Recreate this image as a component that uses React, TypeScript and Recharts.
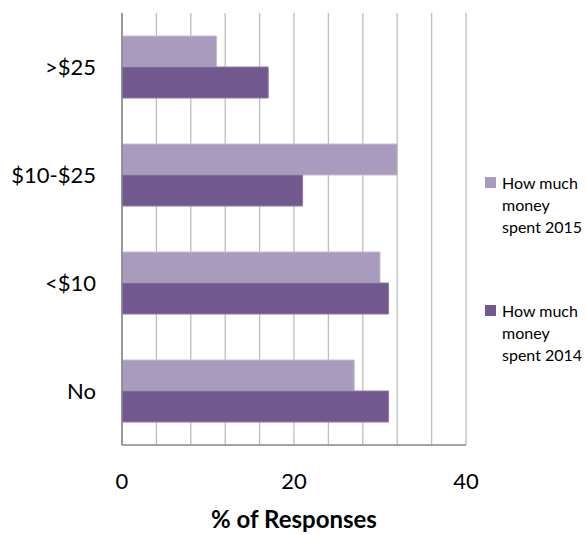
import { BarChart, Bar, XAxis, YAxis, CartesianGrid, Legend } from 'recharts';

const categories = ['>$25', '$10-$25', '<$10', 'No'];
const spent2015 = [11, 32, 30, 27];
const spent2014 = [17, 21, 31, 31];
const xTicks = [0, 4, 8, 12, 16, 20, 24, 28, 32, 36, 40];

const seriesNames = ['How much money spent 2015', 'How much money spent 2014'];
const LIGHT = '#a99bbd';
const DARK = '#71588f';
const FONT = 'Lato, "Open Sans", sans-serif';

const data = categories.map((name, i) => ({
  name,
  y2015: spent2015[i],
  y2014: spent2014[i],
}));

function LegendBox() {
  const items = [
    { label: seriesNames[0], color: LIGHT },
    { label: seriesNames[1], color: DARK },
  ];
  return (
    <div style={{ fontFamily: FONT, fontSize: 16, color: '#000', textAlign: 'left' }}>
      {items.map((it, i) => (
        <div
          key={it.label}
          style={{ display: 'flex', alignItems: 'flex-start', marginBottom: i === 0 ? 62 : 0 }}
        >
          <div
            style={{
              width: 11,
              height: 11,
              background: it.color,
              marginTop: 5,
              marginRight: 6,
              flexShrink: 0,
            }}
          />
          <div style={{ width: 86, lineHeight: '22px' }}>{it.label}</div>
        </div>
      ))}
    </div>
  );
}

export default function App() {
  return (
    <div style={{ position: 'absolute', left: 0, top: 0, background: '#fff' }}>
      <BarChart
        width={586}
        height={535}
        data={data}
        layout="vertical"
        margin={{ top: 13, right: 120, bottom: 0, left: 0 }}
        barCategoryGap={23}
        barGap={0}
        style={{ fontFamily: FONT }}
      >
        <CartesianGrid horizontal={false} stroke="#bdbdbd" strokeWidth={1.3} />
        <XAxis
          type="number"
          domain={[0, 40]}
          ticks={xTicks}
          interval={0}
          tickFormatter={(v: number) => (v % 20 === 0 ? String(v) : '')}
          height={90}
          tickSize={0}
          tickMargin={28}
          tick={{ fontSize: 22, fill: '#000' }}
          axisLine={{ stroke: '#868686', strokeWidth: 1.5 }}
          label={{
            value: '% of Responses',
            position: 'insideBottom',
            offset: 7,
            style: { fontSize: 24, fontWeight: 700, fill: '#000' },
          }}
        />
        <YAxis
          type="category"
          dataKey="name"
          width={122}
          tickSize={0}
          tickMargin={26}
          tick={{ fontSize: 22, fill: '#000' }}
          axisLine={{ stroke: '#868686', strokeWidth: 1.5 }}
        />
        <Legend
          layout="vertical"
          align="center"
          verticalAlign="middle"
          content={() => <LegendBox />}
          wrapperStyle={{ left: 485, top: 172, width: 100 }}
        />
        <Bar
          dataKey="y2015"
          name={seriesNames[0]}
          fill={LIGHT}
          stroke="#c6bcd4"
          strokeWidth={1}
          isAnimationActive={false}
        />
        <Bar
          dataKey="y2014"
          name={seriesNames[1]}
          fill={DARK}
          stroke="#8f7aa8"
          strokeWidth={1}
          isAnimationActive={false}
        />
      </BarChart>
    </div>
  );
}
